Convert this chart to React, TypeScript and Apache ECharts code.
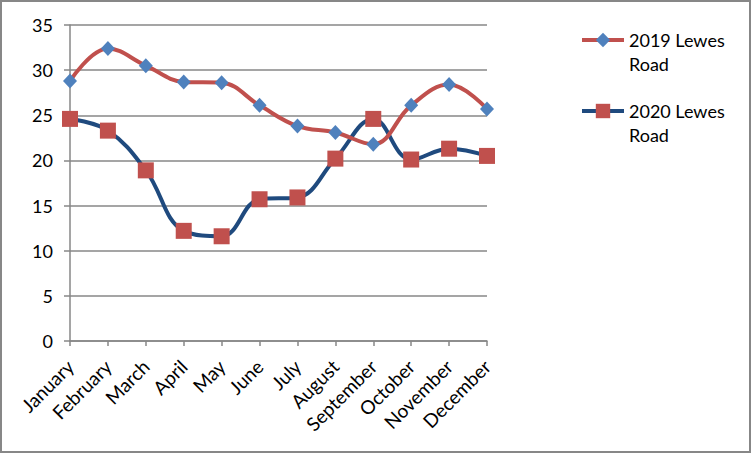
import React, { useEffect, useRef } from "react";
import * as echarts from "echarts";

const months = ["January", "February", "March", "April", "May", "June", "July", "August", "September", "October", "November", "December"];
const lewes2019 = [28.8, 32.4, 30.5, 28.7, 28.6, 26.1, 23.8, 23.1, 21.8, 26.1, 28.4, 25.7];
const lewes2020 = [24.6, 23.3, 18.9, 12.2, 11.6, 15.7, 15.9, 20.2, 24.6, 20.1, 21.3, 20.5];
const seriesNames = ["2019 Lewes Road", "2020 Lewes Road"];

const FONT = "Lato, 'Noto Sans', sans-serif";

export default function App() {
  const ref = useRef<HTMLDivElement>(null);
  useEffect(() => {
    document.body.style.margin = "0";
    const chart = echarts.init(ref.current!, null, { renderer: "svg" });
    chart.setOption({
      animation: false,
      backgroundColor: "#ffffff",
      textStyle: { fontFamily: FONT },
      grid: { left: 70, right: 264, top: 25, bottom: 112, containLabel: false },
      graphic: [
        {
          type: "rect",
          shape: { x: 1, y: 1, width: 749, height: 451 },
          style: { fill: "none", stroke: "#878787", lineWidth: 2 },
          silent: true,
        },
      ],
      legend: {
        orient: "vertical",
        left: 580,
        top: 4,
        padding: 0,
        itemGap: -1,
        itemWidth: 42,
        itemHeight: 18,
        data: seriesNames,
        lineStyle: { width: 4 },
        formatter: (name: string) => " \n" + name.replace(" Road", "\nRoad"),
        textStyle: {
          fontFamily: FONT,
          fontSize: 18,
          color: "#000",
          lineHeight: 24,
        },
      },
      xAxis: {
        type: "category",
        data: months,
        boundaryGap: false,
        axisLine: { lineStyle: { color: "#878787", width: 1.5 } },
        axisTick: { show: true, length: 5, lineStyle: { color: "#878787", width: 1.5 } },
        axisLabel: {
          rotate: 45,
          margin: 22,
          color: "#000",
          fontSize: 19,
          fontFamily: FONT,
          interval: 0,
        },
        splitLine: { show: false },
      },
      yAxis: {
        type: "value",
        min: 0,
        max: 35,
        interval: 5,
        axisLine: { show: true, lineStyle: { color: "#878787", width: 1.5 } },
        axisTick: { show: true, length: 6, lineStyle: { color: "#878787", width: 1.5 } },
        axisLabel: { margin: 17, color: "#000", fontSize: 18, fontFamily: FONT },
        splitLine: { show: true, lineStyle: { color: "#878787", width: 1.5 } },
      },
      series: [
        {
          name: seriesNames[0],
          type: "line",
          data: lewes2019,
          smooth: 0.4,
          symbol: "diamond",
          symbolSize: [14, 15],
          lineStyle: { color: "#C0504D", width: 4 },
          itemStyle: { color: "#4F81BD" },
          z: 3,
        },
        {
          name: seriesNames[1],
          type: "line",
          data: lewes2020,
          smooth: 0.4,
          symbol: "rect",
          symbolSize: 16,
          lineStyle: { color: "#1F4A7E", width: 4 },
          itemStyle: { color: "#C0504D" },
          z: 2,
        },
      ],
    });
    return () => chart.dispose();
  }, []);
  return <div ref={ref} style={{ width: 751, height: 453 }} />;
}
